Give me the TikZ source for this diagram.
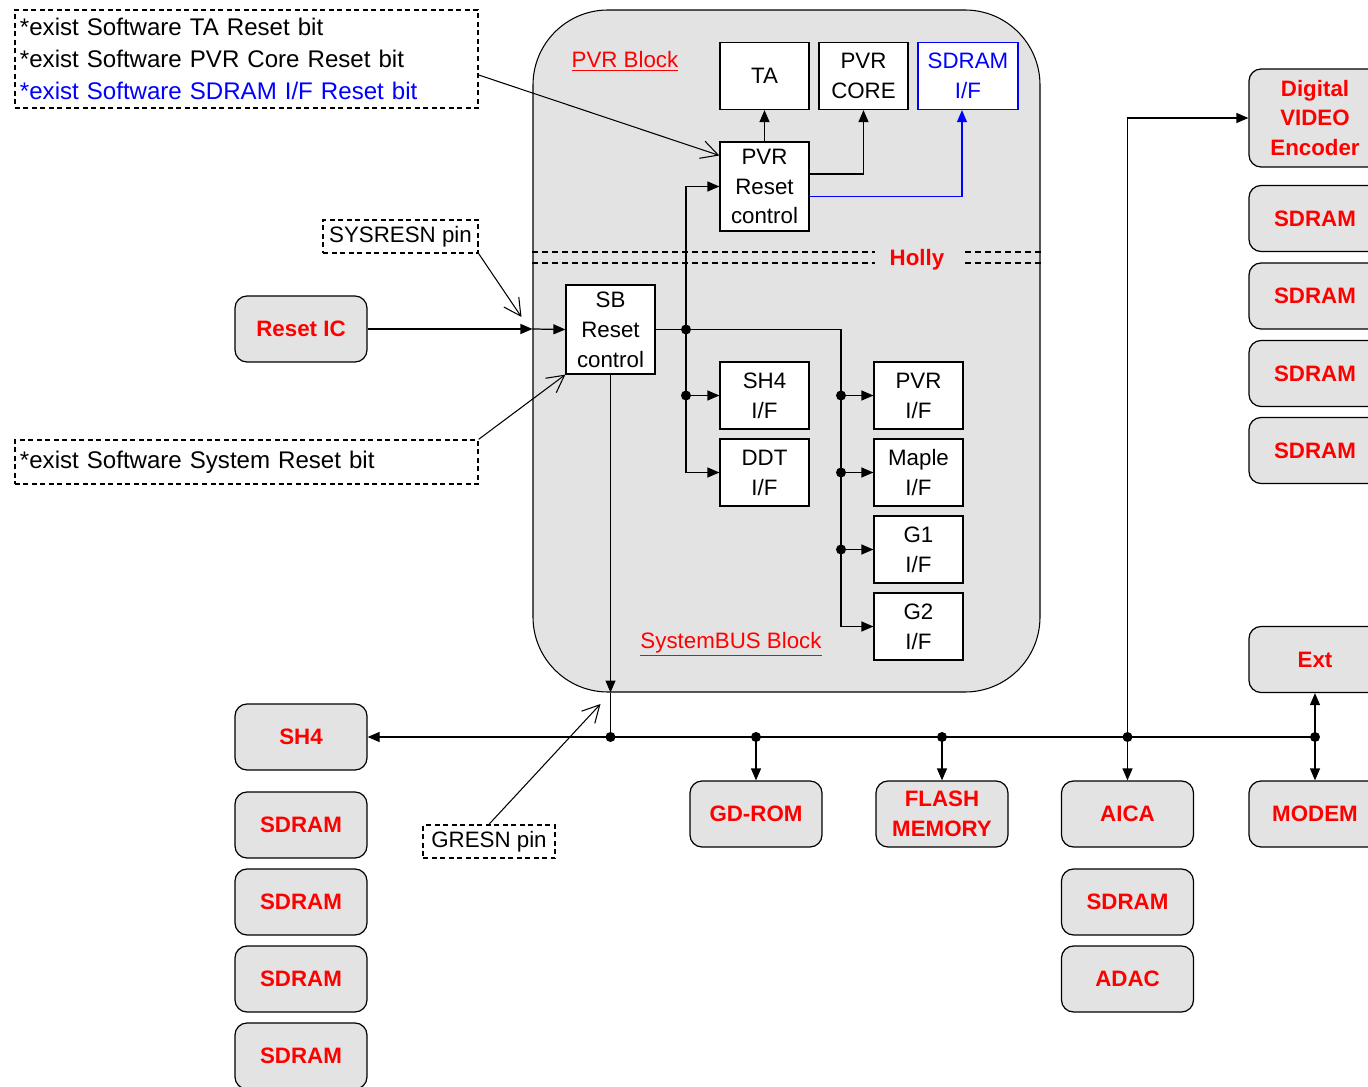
\documentclass[tikz,border=0pt]{standalone}
\usepackage{fontspec}
\setmainfont{Liberation Sans}
\usetikzlibrary{arrows.meta,calc,positioning}
\definecolor{boxgray}{RGB}{227,227,227}
\definecolor{ared}{RGB}{255,0,0}
\definecolor{ablue}{RGB}{0,0,255}

\tikzset{
  blk/.style={draw, fill=white, line width=0.7pt, minimum width=1.78cm, minimum height=1.34cm,
              inner sep=0pt, align=center, font=\fontsize{12.7}{17}\selectfont},
  dev/.style={draw, fill=boxgray, line width=0.7pt, rounded corners=2.4mm, minimum width=2.64cm,
              minimum height=1.32cm, inner sep=0pt, align=center, text=ared,
              font=\fontsize{12.7}{17}\selectfont\bfseries},
  note/.style={draw, dash pattern=on 1mm off 0.7mm, line width=0.8pt, inner sep=0pt,
               font=\fontsize{12.7}{17}\selectfont},
  arr/.style={-{Triangle[length=2.4mm,width=2mm]}},
  barb/.style={-{Straight Barb[length=3.4mm,width=3.6mm]}},
}

\begin{document}
\begin{tikzpicture}[x=0.2mm, y=-0.2mm, line width=0.7pt]
  \useasboundingbox (0,0) rectangle (1368,1087);

  % Holly chip
  \node[draw, fill=boxgray, line width=0.6pt, rounded corners=15mm, minimum width=10.14cm,
        minimum height=13.64cm] (holly) at (786.5,351) {};
  \draw[dash pattern=on 1.2mm off 0.8mm, line width=0.6pt]
    (holly.west |- 0,252) -- (875,252) (holly.west |- 0,263) -- (875,263)
    (965,252) -- (holly.east |- 0,252) (965,263) -- (holly.east |- 0,263);
  \node[text=ared, font=\fontsize{12.7}{17}\selectfont\bfseries] (hollylbl) at (917,260) {Holly};
  \node[text=ared, font=\fontsize{12.7}{17}\selectfont] (pvrblk) at (625,61) {\underline{PVR Block}};
  \node[text=ared, font=\fontsize{12.7}{17}\selectfont] (sysblk) at (731,644) {\underline{SystemBUS Block}};

  % PVR block
  \node[blk] (ta) at (764.5,76) {TA};
  \node[blk] (pvrcore) at (863.5,76) {PVR\\CORE};
  \node[blk, draw=ablue, text=ablue, minimum width=2cm] (sdramif) at (968,76) {SDRAM\\I/F};
  \node[blk, minimum height=1.78cm] (pvrrst) at (764.5,186.5) {PVR\\Reset\\control};

  % SystemBUS block
  \node[blk, minimum height=1.78cm] (sbrst) at (610.5,329.5) {SB\\Reset\\control};
  \node[blk] (sh4if) at (764.5,395.5) {SH4\\I/F};
  \node[blk] (ddtif) at (764.5,472.5) {DDT\\I/F};
  \node[blk] (pvrif) at (918.5,395.5) {PVR\\I/F};
  \node[blk] (mapleif) at (918.5,472.5) {Maple\\I/F};
  \node[blk] (g1if) at (918.5,549.5) {G1\\I/F};
  \node[blk] (g2if) at (918.5,626.5) {G2\\I/F};

  % outside devices
  \node[dev] (resetic) at (301,329) {Reset IC};
  \node[dev] (sh4) at (301,737) {SH4};
  \foreach \n/\y in {a/825,b/902,c/979,d/1056}
    \node[dev] (lsdram\n) at (301,\y) {SDRAM};
  \node[dev] (gdrom) at (756,814) {GD-ROM};
  \node[dev] (flash) at (942,814) {FLASH\\MEMORY};
  \node[dev] (aica) at (1127.5,814) {AICA};
  \node[dev] (asdram) at (1127.5,902) {SDRAM};
  \node[dev] (adac) at (1127.5,979) {ADAC};
  \node[dev] (modem) at (1315,814) {MODEM};
  \node[dev] (ext) at (1315,659.5) {Ext};
  \node[dev, minimum height=1.96cm] (dve) at (1315,118) {Digital\\VIDEO\\Encoder};
  \foreach \n/\y in {a/218.5,b/296,c/373.5,d/450.5}
    \node[dev] (rsdram\n) at (1315,\y) {SDRAM};

  % notes
  \node[note, text width=9.06cm, inner xsep=1mm, minimum height=1.96cm, align=left,
        font=\fontsize{13.7}{18}\selectfont] (pvrnote) at (246.5,59)
    {*exist Software TA Reset bit\\{}*exist Software PVR Core Reset bit\\{}%
     \textcolor{ablue}{*exist Software SDRAM I/F Reset bit}};
  \node[note, text width=9.06cm, inner xsep=1mm, minimum height=0.88cm, align=left,
        font=\fontsize{13.7}{18}\selectfont] (sysnote) at (246.5,462) {*exist Software System Reset bit};
  \node[note, minimum width=3.1cm, minimum height=0.66cm] (sysresn) at (400.5,236.5) {SYSRESN pin};
  \node[note, minimum width=2.64cm, minimum height=0.66cm] (gresn) at (489,841.5) {GRESN pin};

  % junctions
  \coordinate (ja) at (686,329.5);
  \coordinate (jb) at (841,329.5);
  \coordinate (j1) at (610.5,737);
  \coordinate (j2) at (756,737);
  \coordinate (j3) at (942,737);
  \coordinate (j4) at (1127.5,737);
  \coordinate (j5) at (1315,737);

  % PVR reset lines
  \draw[arr] (pvrrst.north) -- (ta.south);
  \draw[arr] ([yshift=2.5mm]pvrrst.east) -| (pvrcore.south);
  \draw[arr, ablue, line width=0.6pt] ([yshift=-2mm]pvrrst.east) -| ([xshift=-1.2mm]sdramif.south);

  % SB reset lines
  \draw[arr] (sbrst.east) -- (jb) |- (g2if.west);
  \draw[arr] (ja) |- (pvrrst.west);
  \draw[arr] (ja) |- (ddtif.west);
  \draw[arr] (ja |- sh4if.west) -- (sh4if.west);
  \foreach \n in {pvrif,mapleif,g1if}
    \draw[arr] (jb |- \n.west) -- (\n.west);

  % reset in
  \draw[arr] (resetic.east) -- (resetic -| holly.west);
  \draw[arr] (resetic -| holly.west) -- (sbrst.west);
  \draw[arr] (sbrst.south) -- (sbrst.south |- holly.south);
  \draw (sbrst.south |- holly.south) -- (j1);

  % bus
  \draw[arr] (j5) -- (sh4.east);
  \draw[arr] (j2) -- (gdrom.north);
  \draw[arr] (j3) -- (flash.north);
  \draw[arr] (j4) -- (aica.north);
  \draw[arr] (j4) |- (dve.west);
  \draw[arr] (j5) -- (ext.south);
  \draw[arr] (j5) -- (modem.north);

  \foreach \p in {ja,j1,j2,j3,j4,j5}
    \fill (\p) circle (1mm);
  \fill (ja |- sh4if.west) circle (1mm);
  \foreach \n in {pvrif,mapleif,g1if}
    \fill (jb |- \n.west) circle (1mm);

  % note pointers
  \draw[barb, line width=0.6pt] ([yshift=-3.2mm]pvrnote.east) -- ([yshift=6.2mm]pvrrst.west);
  \draw[barb, line width=0.6pt] (sysresn.south east) -- ($(resetic -| holly.west)+(-11,-12)$);
  \draw[barb, line width=0.6pt] (sysnote.north east) -- (sbrst.south west);
  \draw[barb, line width=0.6pt] (gresn.north) -- ($(j1)+(-10,-33)$);
\end{tikzpicture}
\end{document}
